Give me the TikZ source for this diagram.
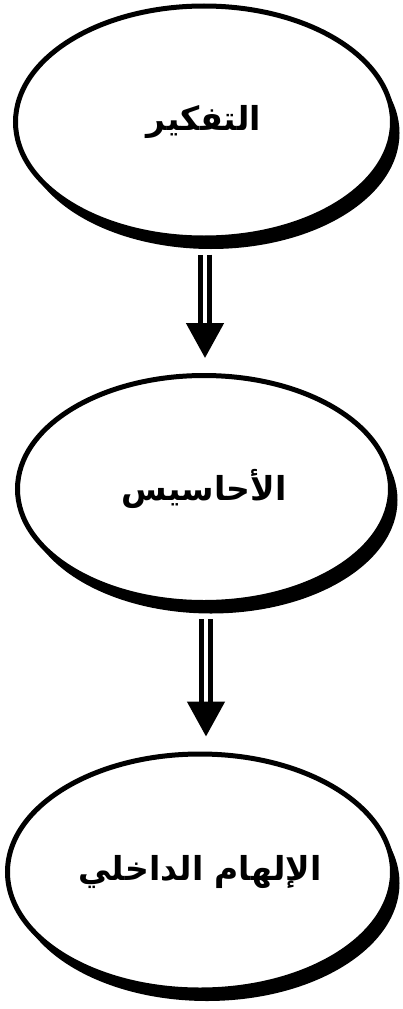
\documentclass[tikz,border=0pt]{standalone}
\usepackage{fontspec}
\TeXXeTstate=1
\newfontfamily\arabicfont[Script=Arabic]{DejaVu Sans}
\usetikzlibrary{shapes.geometric,shadows,arrows.meta}
\tikzset{
  bubble/.style={ellipse, draw, line width=5pt, fill=white, inner sep=0pt,
    font=\arabicfont\bfseries\fontsize{33}{38}\selectfont,
    drop shadow={shadow xshift=7pt, shadow yshift=-11pt, fill=black, opacity=1}},
  flow/.style={draw, line width=5pt, double distance=4pt, double=white,
    -{Triangle[length=35pt, width=37pt]}}
}
\begin{document}
\begin{tikzpicture}[x=1pt,y=-1pt]
\useasboundingbox (0,0) rectangle (402,1009);
\node[bubble, minimum width=377pt, minimum height=232pt] (a) at (204,122) {\beginR التفكير\endR};
\node[bubble, minimum width=373pt, minimum height=227pt] (b) at (204,489) {\beginR الأحاسيس\endR};
\node[bubble, minimum width=385pt, minimum height=236pt] (c) at (200,872) {\beginR الإلهام الداخلي\endR};
\draw[flow] ([xshift=1pt,yshift=-14pt]a.south) -- ([xshift=1pt,yshift=15pt]b.north);
\draw[flow] ([xshift=2pt,yshift=-14pt]b.south) -- ([xshift=6pt,yshift=15pt]c.north);
\end{tikzpicture}
\end{document}
